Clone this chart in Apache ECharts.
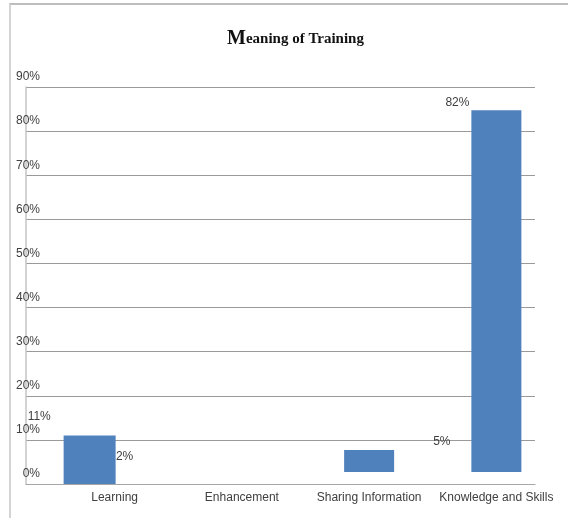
<!DOCTYPE html>
<html>
<head>
<meta charset="utf-8">
<script src="https://cdn.jsdelivr.net/npm/echarts@6/dist/echarts.min.js"></script>
<style>
html,body{margin:0;padding:0;background:#fff;}
#frame{position:absolute;left:9px;top:3px;width:570px;height:530px;border-left:2px solid #d4d4d4;border-top:2px solid #bdbdbd;}
#chart{position:absolute;left:0;top:0;width:568px;height:518px;}
</style>
</head>
<body>
<div id="frame"></div>
<div id="chart"></div>
<script>
const titleText = 'Meaning of Training';
const categories = ['Learning', 'Enhancement', 'Sharing Information', 'Knowledge and Skills'];
const values = [11, 2, 5, 82];
const yTicks = [0, 10, 20, 30, 40, 50, 60, 70, 80, 90];

const font = '"Liberation Sans", Arial, sans-serif';
const barColor = '#4f81bd';
const labelPos = [[-36, -25], [-75, -24], [89, -14], [-26, -14]];

const chart = echarts.init(document.getElementById('chart'), null, {renderer: 'canvas'});

function mkItem(i) {
  return {
    value: values[i],
    itemStyle: i === 1 ? {color: 'rgba(0,0,0,0)'} : {color: barColor},
    label: {
      show: true, position: labelPos[i], align: 'left', verticalAlign: 'top',
      formatter: '{c}%', color: '#404040', fontFamily: font, fontSize: 12
    }
  };
}

const first = values.map((v, i) => i < 2 ? mkItem(i) : '-');
const second = values.map((v, i) => i >= 2 ? mkItem(i) : '-');

chart.setOption({
  animation: false,
  backgroundColor: 'transparent',
  title: {
    text: '{a|' + titleText.charAt(0) + '}{b|' + titleText.slice(1) + '}',
    left: 222, top: 24,
    textStyle: {
      rich: {
        a: {fontFamily: '"Liberation Serif", serif', fontWeight: 'bold', fontSize: 20, color: '#111'},
        b: {fontFamily: '"Liberation Serif", serif', fontWeight: 'bold', fontSize: 15, color: '#111'}
      }
    }
  },
  grid: [
    {left: 26, right: 33, top: 87, bottom: 34},
    {left: 51, right: 8, top: 75, bottom: 46}
  ],
  xAxis: [
    {
      type: 'category', gridIndex: 0, data: categories,
      axisLine: {lineStyle: {color: '#a6a6a6', width: 1}},
      axisTick: {show: false},
      axisLabel: {
        interval: 0, margin: 8, color: '#404040', fontFamily: font, fontSize: 12,
        padding: [0, 0, 0, 50]
      }
    },
    {
      type: 'category', gridIndex: 1, data: categories, show: false
    }
  ],
  yAxis: [
    {
      type: 'value', gridIndex: 0, min: 0, max: 90, interval: 10,
      axisLine: {show: true, lineStyle: {color: '#c4c4c4', width: 1.5}},
      axisTick: {show: false},
      splitLine: {lineStyle: {color: '#9a9a9a', width: 1}},
      axisLabel: {
        formatter: '{value}%', align: 'right', margin: -14,
        verticalAlign: 'bottom', padding: [0, 0, 4, 0],
        color: '#404040', fontFamily: font, fontSize: 12
      }
    },
    {
      type: 'value', gridIndex: 1, min: 0, max: 90, interval: 10, show: false,
      splitLine: {show: false}
    }
  ],
  series: [
    {
      type: 'bar', xAxisIndex: 0, yAxisIndex: 0, data: first,
      barWidth: 52, barGap: '-100%'
    },
    {
      type: 'bar', xAxisIndex: 1, yAxisIndex: 1, data: second,
      barWidth: 50
    }
  ]
});
</script>
</body>
</html>
